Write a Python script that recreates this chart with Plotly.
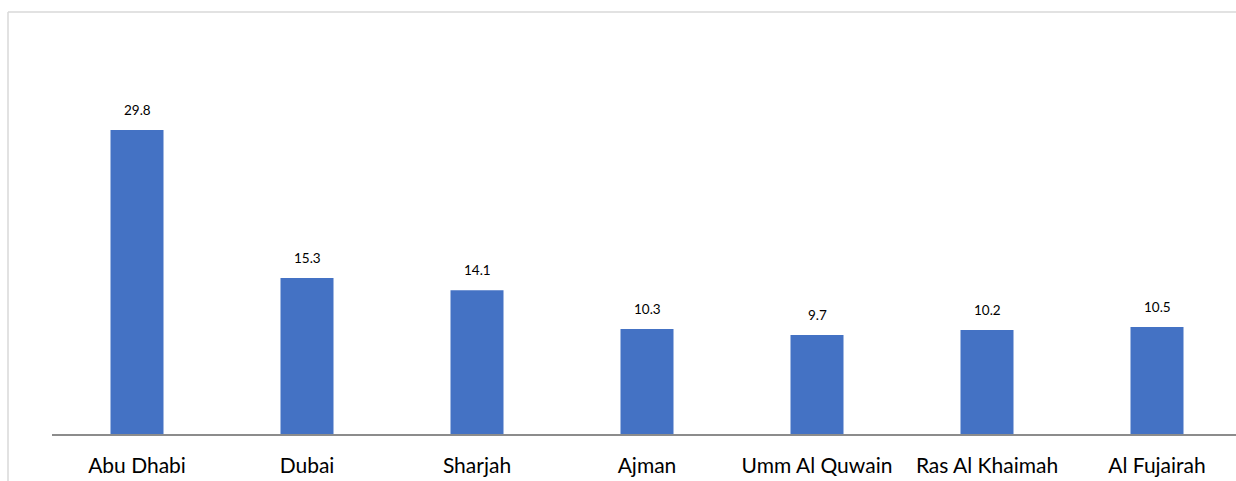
import plotly.graph_objects as go

categories = ["Abu Dhabi", "Dubai", "Sharjah", "Ajman", "Umm Al Quwain", "Ras Al Khaimah", "Al Fujairah"]
values = [29.8, 15.3, 14.1, 10.3, 9.7, 10.2, 10.5]
value_labels = ["29.8", "15.3", "14.1", "10.3", "9.7", "10.2", "10.5"]

W, H = 1236, 481
ML, MR, MT, MB = 52, 0, 77, 47
plot_w = W - ML - MR
px_per_cat = 170.0
FONT = "Lato, Open Sans, sans-serif"

fig = go.Figure()
fig.add_trace(go.Bar(
    x=categories, y=values,
    marker=dict(color="#4472C4", line=dict(width=0)),
    width=53 / px_per_cat,
    hoverinfo="x+y",
))

for c, v, t in zip(categories, values, value_labels):
    fig.add_annotation(x=c, y=v, text=t, showarrow=False, yanchor="bottom",
                       yshift=10, font=dict(size=13.5, color="#000000", family=FONT))

# chart border (left and top edges visible)
bx0 = (8 - ML) / plot_w
by_top = 1 + (MT - 12) / (H - MT - MB)
fig.add_shape(type="line", xref="paper", yref="paper", x0=bx0, x1=bx0, y0=-2, y1=by_top,
              line=dict(color="#D9D9D9", width=1.5))
fig.add_shape(type="line", xref="paper", yref="paper", x0=bx0, x1=1.2, y0=by_top, y1=by_top,
              line=dict(color="#D9D9D9", width=1.5))

fig.update_layout(
    width=W, height=H,
    margin=dict(l=ML, r=MR, t=MT, b=MB),
    paper_bgcolor="white", plot_bgcolor="white",
    showlegend=False,
    font=dict(family=FONT, color="#000000"),
)
fig.update_xaxes(
    range=[-0.5, -0.5 + plot_w / px_per_cat],
    showline=True, linecolor="#8C8C8C", linewidth=2,
    ticks="outside", ticklen=12, tickcolor="rgba(0,0,0,0)",
    tickfont=dict(size=21, color="#000000"),
    showgrid=False, zeroline=False,
)
fig.update_yaxes(range=[0, 35], visible=False, showgrid=False, zeroline=False)

fig.write_html("out.html", config={"displayModeBar": False},
               post_script="document.body.style.margin='0';document.body.style.overflow='hidden';")
